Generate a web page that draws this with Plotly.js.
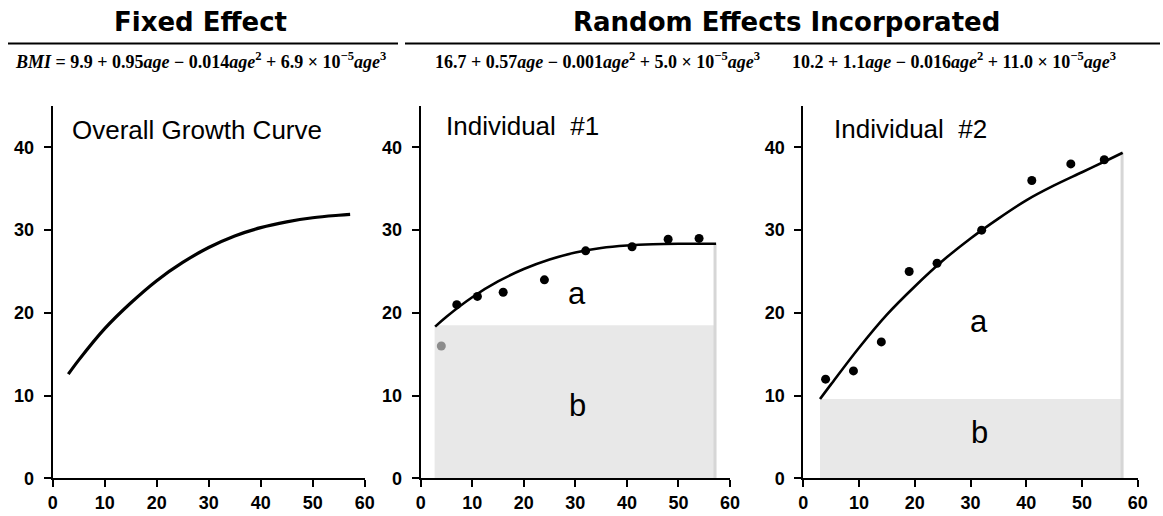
<!DOCTYPE html>
<html>
<head>
<meta charset="utf-8">
<script src="https://cdn.plot.ly/plotly-3.0.1.min.js"></script>
<style>html,body{margin:0;padding:0;background:#fff;}#chart{width:1163px;height:516px;}</style>
</head>
<body>
<div id="chart"></div>
<script>
// ---- Data ----
// Overall (fixed effect) growth curve
const overallAge = [3, 5, 10, 15, 20, 25, 30, 35, 40, 45, 50, 55, 57.2];
const overallBMI = [12.6, 14.3, 18.1, 21.2, 23.9, 26.1, 27.9, 29.3, 30.3, 31.0, 31.5, 31.8, 31.9];

// Individual #1
const ind1CurveAge = [2.8, 5, 10, 15, 20, 25, 30, 35, 40, 45, 50, 55, 57.3];
const ind1CurveBMI = [18.35, 19.55, 21.9, 23.8, 25.3, 26.45, 27.3, 27.85, 28.15, 28.3, 28.35, 28.35, 28.35];
const ind1Age = [7, 11, 16, 24, 32, 41, 48, 54];
const ind1BMI = [21.0, 22.0, 22.5, 24.0, 27.5, 28.0, 28.9, 29.0];
const ind1ExcludedAge = [4];
const ind1ExcludedBMI = [16];
const ind1Band = {x0: 2.7, x1: 57.1, top: 18.5, right: 28.35};

// Individual #2
const ind2CurveAge = [3.0, 5, 10, 15, 20, 25, 30, 35, 40, 45, 50, 55, 57.3];
const ind2CurveBMI = [9.6, 11.4, 15.8, 19.8, 23.2, 26.3, 29.0, 31.4, 33.6, 35.4, 37.0, 38.6, 39.35];
const ind2Age = [4, 9, 14, 19, 24, 32, 41, 48, 54];
const ind2BMI = [12, 13, 16.5, 25, 26, 30, 36, 38, 38.5];
const ind2Band = {x0: 3.0, x1: 57.2, top: 9.6, right: 39.35};

const xTicks = [0, 10, 20, 30, 40, 50, 60];
const yTicks = [0, 10, 20, 30, 40];

// ---- Traces ----
const lineCol = '#000';
const traces = [
  {x: overallAge, y: overallBMI, xaxis: 'x', yaxis: 'y', mode: 'lines',
   line: {color: lineCol, width: 3.2, shape: 'spline', smoothing: 1}},
  {x: ind1CurveAge, y: ind1CurveBMI, xaxis: 'x2', yaxis: 'y2', mode: 'lines',
   line: {color: lineCol, width: 2.6, shape: 'spline', smoothing: 1}},
  {x: ind1Age, y: ind1BMI, xaxis: 'x2', yaxis: 'y2', mode: 'markers',
   marker: {color: '#000', size: 9}},
  {x: ind1ExcludedAge, y: ind1ExcludedBMI, xaxis: 'x2', yaxis: 'y2', mode: 'markers',
   marker: {color: '#8c8c8c', size: 9}},
  {x: ind2CurveAge, y: ind2CurveBMI, xaxis: 'x3', yaxis: 'y3', mode: 'lines',
   line: {color: lineCol, width: 2.6, shape: 'spline', smoothing: 1}},
  {x: ind2Age, y: ind2BMI, xaxis: 'x3', yaxis: 'y3', mode: 'markers',
   marker: {color: '#000', size: 9}}
];

// ---- Axes ----
function tickFont() {
  return {family: 'Liberation Sans, Arial, sans-serif', size: 18, color: '#000', weight: 'bold'};
}
function xa(dom, anchor) {
  return {domain: dom, anchor: anchor, range: [0, 60], tickvals: xTicks, ticks: 'outside', ticklen: 7,
    tickwidth: 2, tickcolor: '#000', showline: true, linecolor: '#000', linewidth: 2,
    showgrid: false, zeroline: false, tickfont: tickFont(), fixedrange: true};
}
function ya(dom, anchor) {
  return {domain: dom, range: [0, 45], tickvals: yTicks, ticks: 'outside', ticklen: 7,
    tickwidth: 2, tickcolor: '#000', showline: true, linecolor: '#000', linewidth: 2,
    showgrid: false, zeroline: false, tickfont: tickFont(), anchor: anchor, fixedrange: true,
    ticklabelstandoff: 6};
}
const yDom = [0.0727, 0.7946];

// ---- Shapes ----
const bandFill = '#e8e8e8';
const edgeCol = '#d6d6d6';
function band(b, xr, yr) {
  return [
    {type: 'rect', xref: xr, yref: yr, x0: b.x0, x1: b.x1, y0: 0, y1: b.top,
     fillcolor: bandFill, line: {width: 0}, layer: 'below'},
    {type: 'line', xref: xr, yref: yr, x0: b.x1, x1: b.x1, y0: 0, y1: b.right,
     line: {color: edgeCol, width: 3}, layer: 'below'}
  ];
}
const shapes = [].concat(
  band(ind1Band, 'x2', 'y2'),
  band(ind2Band, 'x3', 'y3'),
  [
    {type: 'line', xref: 'paper', yref: 'paper', x0: 8/1163, x1: 398/1163, y0: 1-43.5/516, y1: 1-43.5/516,
     line: {color: '#000', width: 2}},
    {type: 'line', xref: 'paper', yref: 'paper', x0: 405/1163, x1: 1160/1163, y0: 1-43.5/516, y1: 1-43.5/516,
     line: {color: '#000', width: 2}}
  ]
);

// ---- Annotations ----
const headFont = {family: 'DejaVu Sans, sans-serif', size: 26, color: '#000', weight: 'bold'};
const eqFont = {family: 'Liberation Serif, Times New Roman, serif', size: 18, color: '#000'};
const lblFont = {family: 'Liberation Sans, Arial, sans-serif', size: 26, color: '#000'};
const abFont = {family: 'Liberation Sans, Arial, sans-serif', size: 31, color: '#000'};
const annotations = [
  {xref: 'paper', yref: 'paper', x: 201/1163, y: 1-22/516, text: 'Fixed Effect', showarrow: false,
   xanchor: 'center', yanchor: 'middle', font: headFont},
  {xref: 'paper', yref: 'paper', x: 786/1163, y: 1-22/516, text: 'Random Effects Incorporated', showarrow: false,
   xanchor: 'center', yanchor: 'middle', font: headFont},
  {xref: 'paper', yref: 'paper', x: 200/1163, y: 1-61/516, showarrow: false, xanchor: 'center', yanchor: 'middle', font: eqFont,
   text: '<b><i>BMI</i> = 9.9 + 0.95<i>age</i> − 0.014<i>age</i><sup>2</sup> + 6.9 × 10<sup>−5</sup><i>age</i><sup>3</sup></b>'},
  {xref: 'paper', yref: 'paper', x: 597/1163, y: 1-61/516, showarrow: false, xanchor: 'center', yanchor: 'middle', font: eqFont,
   text: '<b>16.7 + 0.57<i>age</i> − 0.001<i>age</i><sup>2</sup> + 5.0 × 10<sup>−5</sup><i>age</i><sup>3</sup></b>'},
  {xref: 'paper', yref: 'paper', x: 954/1163, y: 1-61/516, showarrow: false, xanchor: 'center', yanchor: 'middle', font: eqFont,
   text: '<b>10.2 + 1.1<i>age</i> − 0.016<i>age</i><sup>2</sup> + 11.0 × 10<sup>−5</sup><i>age</i><sup>3</sup></b>'},
  {xref: 'x', yref: 'y', x: 3.4, y: 42.1, text: 'Overall Growth Curve', showarrow: false,
   xanchor: 'left', yanchor: 'middle', font: lblFont},
  {xref: 'x2', yref: 'y2', x: 4.5, y: 42.6, text: 'Individual  #1', showarrow: false,
   xanchor: 'left', yanchor: 'middle', font: lblFont},
  {xref: 'x3', yref: 'y3', x: 5.1, y: 42.2, text: 'Individual  #2', showarrow: false,
   xanchor: 'left', yanchor: 'middle', font: lblFont},
  {xref: 'x2', yref: 'y2', x: 30.4, y: 22.3, text: 'a', showarrow: false, xanchor: 'center', yanchor: 'middle', font: abFont},
  {xref: 'x2', yref: 'y2', x: 30.4, y: 8.8, text: 'b', showarrow: false, xanchor: 'center', yanchor: 'middle', font: abFont},
  {xref: 'x3', yref: 'y3', x: 31.6, y: 19.0, text: 'a', showarrow: false, xanchor: 'center', yanchor: 'middle', font: abFont},
  {xref: 'x3', yref: 'y3', x: 31.6, y: 5.5, text: 'b', showarrow: false, xanchor: 'center', yanchor: 'middle', font: abFont}
];

const layout = {
  width: 1163, height: 516,
  margin: {l: 0, r: 0, t: 0, b: 0},
  paper_bgcolor: '#fff', plot_bgcolor: 'rgba(0,0,0,0)',
  showlegend: false,
  xaxis: xa([52.7/1163, 364.7/1163], 'y'),
  yaxis: ya(yDom, 'x'),
  xaxis2: xa([420.7/1163, 730/1163], 'y2'),
  yaxis2: ya(yDom, 'x2'),
  xaxis3: xa([803.3/1163, 1137.7/1163], 'y3'),
  yaxis3: ya(yDom, 'x3'),
  shapes: shapes,
  annotations: annotations
};

Plotly.newPlot('chart', traces, layout, {displayModeBar: false, staticPlot: true});
</script>
</body>
</html>
